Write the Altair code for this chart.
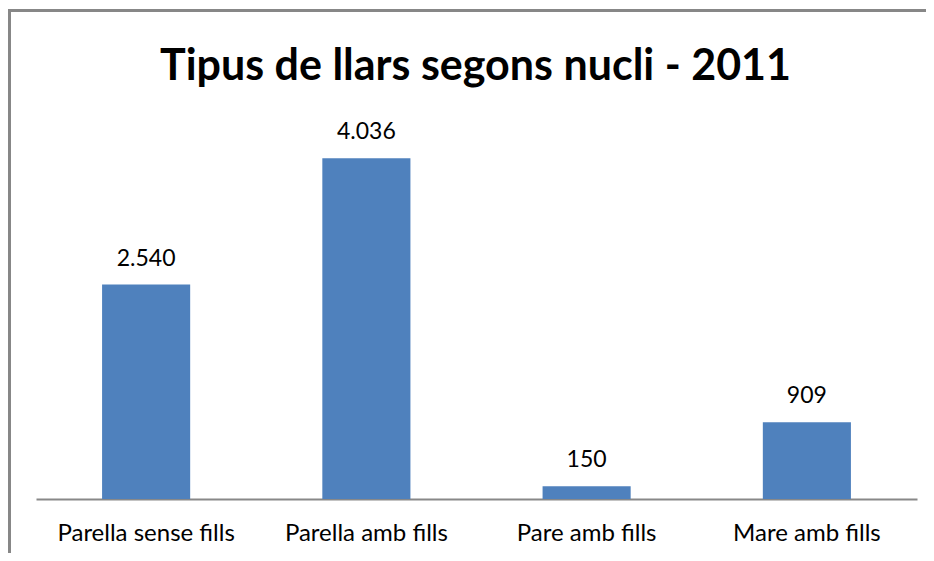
import altair as alt
import pandas as pd

categories = ["Parella sense fills", "Parella amb fills", "Pare amb fills", "Mare amb fills"]
values = [2540, 4036, 150, 909]
labels = ["2.540", "4.036", "150", "909"]
title_text = "Tipus de llars segons nucli - 2011"

df = pd.DataFrame({"cat": categories, "val": values, "lab": labels})

W, H = 881, 380
FONT = "Lato"

x = alt.X("cat:N", sort=categories, title=None,
          scale=alt.Scale(paddingInner=0.6, paddingOuter=0.3),
          axis=alt.Axis(labelAngle=0, ticks=False, domainColor="#888888", domainWidth=2,
                        labelFont=FONT, labelFontSize=24, labelColor="#000000",
                        labelPadding=22))
y = alt.Y("val:Q", scale=alt.Scale(domain=[0, 4500]), axis=None)

bars = alt.Chart(df).mark_bar(color="#4F81BD").encode(x=x, y=y)
text = alt.Chart(df).mark_text(baseline="bottom", dy=-14, font=FONT, fontSize=23, color="#000000").encode(
    x=alt.X("cat:N", sort=categories), y="val:Q", text="lab:N")

one = pd.DataFrame({"t": [title_text]})
title = alt.Chart(one).mark_text(font=FONT, fontSize=43, fontWeight="bold", color="#000000",
                                 baseline="alphabetic", align="center").encode(
    x=alt.value(W / 2 - 1), y=alt.value(-39), text="t:N")

left = alt.Chart(one).mark_rule(color="#878787", strokeWidth=3).encode(
    x=alt.value(-26.5), y=alt.value(-108.5), y2=alt.value(H + 100))
top = alt.Chart(one).mark_rule(color="#878787", strokeWidth=3).encode(
    y=alt.value(-108.5), x=alt.value(-28), x2=alt.value(W + 100))

chart = alt.layer(bars, text, title, left, top).properties(
    width=W, height=H,
    autosize=alt.AutoSizeParams(type="none"),
    padding={"left": 28, "top": 111, "right": 9, "bottom": 54},
).configure(background="white", view=alt.ViewConfig(stroke="transparent", strokeWidth=0))

chart.save("out.html", embed_options={"renderer": "svg", "actions": False})
